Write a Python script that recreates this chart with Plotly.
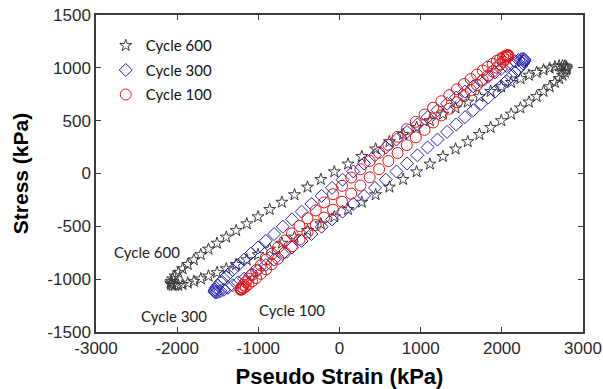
import plotly.graph_objects as go

# ---- data ----
cycle600_x = [2800, 2794, 2776, 2747, 2706, 2653, 2589, 2514, 2429, 2334, 2229, 2115, 1993, 1862, 1724, 1580, 1430, 1274, 1114, 950, 784, 615, 445, 275, 105, -64, -230, -394, -554, -710, -860, -1004, -1142, -1273, -1395, -1509, -1614, -1709, -1794, -1869, -1933, -1986, -2027, -2056, -2074, -2080, -2074, -2056, -2027, -1986, -1933, -1869, -1794, -1709, -1614, -1509, -1395, -1273, -1142, -1004, -860, -710, -554, -394, -230, -64, 105, 275, 445, 615, 784, 950, 1114, 1274, 1430, 1580, 1724, 1862, 1993, 2115, 2229, 2334, 2429, 2514, 2589, 2653, 2706, 2747, 2776, 2794]
cycle600_y = [997, 1010, 1018, 1020, 1018, 1010, 997, 980, 957, 930, 898, 862, 821, 777, 728, 676, 620, 562, 500, 436, 370, 301, 232, 161, 89, 16, -56, -129, -201, -272, -341, -410, -476, -540, -602, -660, -716, -768, -817, -861, -902, -938, -970, -997, -1020, -1037, -1050, -1058, -1060, -1058, -1050, -1037, -1020, -997, -970, -938, -902, -861, -817, -768, -716, -660, -602, -540, -476, -410, -341, -272, -201, -129, -56, 16, 89, 161, 232, 301, 370, 436, 500, 562, 620, 676, 728, 777, 821, 862, 898, 930, 957, 980]

cycle300_x = [2280, 2275, 2261, 2238, 2206, 2165, 2115, 2056, 1990, 1915, 1833, 1744, 1648, 1546, 1438, 1325, 1207, 1085, 960, 832, 702, 570, 437, 303, 170, 38, -92, -220, -346, -467, -585, -698, -806, -908, -1004, -1093, -1175, -1250, -1316, -1375, -1425, -1466, -1498, -1522, -1535, -1540, -1535, -1522, -1498, -1466, -1425, -1375, -1316, -1250, -1175, -1093, -1004, -908, -806, -698, -585, -467, -346, -220, -92, 38, 170, 303, 437, 570, 702, 832, 960, 1085, 1207, 1325, 1438, 1546, 1648, 1744, 1833, 1915, 1990, 2056, 2115, 2165, 2206, 2238, 2261, 2275]
cycle300_y = [1074, 1082, 1085, 1082, 1074, 1061, 1042, 1018, 989, 956, 917, 874, 826, 775, 719, 660, 598, 533, 464, 394, 321, 247, 172, 95, 19, -59, -136, -212, -287, -361, -434, -504, -573, -638, -700, -759, -815, -866, -914, -957, -996, -1029, -1058, -1082, -1101, -1114, -1122, -1125, -1122, -1114, -1101, -1082, -1058, -1029, -996, -957, -914, -866, -815, -759, -700, -638, -573, -504, -434, -361, -287, -212, -136, -59, 19, 95, 172, 247, 321, 394, 464, 533, 598, 660, 719, 775, 826, 874, 917, 956, 989, 1018, 1042, 1061]

cycle100_x = [2080, 2076, 2064, 2044, 2016, 1981, 1937, 1887, 1829, 1765, 1694, 1617, 1534, 1446, 1353, 1255, 1153, 1048, 940, 829, 716, 602, 488, 372, 258, 144, 31, -80, -188, -293, -395, -493, -586, -674, -757, -834, -905, -969, -1027, -1077, -1121, -1156, -1184, -1204, -1216, -1220, -1216, -1204, -1184, -1156, -1121, -1077, -1027, -969, -905, -834, -757, -674, -586, -493, -395, -293, -188, -80, 31, 144, 258, 372, 488, 602, 716, 829, 940, 1048, 1153, 1255, 1353, 1446, 1534, 1617, 1694, 1765, 1829, 1887, 1937, 1981, 2016, 2044, 2064, 2076]
cycle100_y = [1117, 1120, 1118, 1112, 1101, 1085, 1065, 1039, 1010, 975, 937, 894, 847, 797, 741, 684, 622, 557, 489, 419, 347, 272, 196, 119, 40, -38, -117, -196, -273, -349, -424, -497, -567, -634, -699, -759, -816, -868, -916, -958, -996, -1028, -1054, -1075, -1089, -1097, -1100, -1096, -1086, -1071, -1049, -1021, -989, -950, -907, -859, -806, -749, -689, -625, -558, -488, -417, -343, -267, -191, -114, -36, 41, 118, 194, 269, 342, 413, 483, 550, 613, 675, 732, 787, 837, 884, 928, 966, 1002, 1032, 1058, 1080, 1097, 1109]

series_names = ["Cycle 600", "Cycle 300", "Cycle 100"]
x_tickvals = [-3000, -2000, -1000, 0, 1000, 2000, 3000]
x_ticktext = ["-3000", "-2000", "-1000", "0", "1000", "2000", "3000"]
y_tickvals = [-1500, -1000, -500, 0, 500, 1000, 1500]
y_ticktext = ["-1500", "-1000", "-500", "0", "500", "1000", "1500"]
label_text = ["Cycle 600", "Cycle 300", "Cycle 100"]
label_x = [-2370, -2040, -590]
label_y = [-745, -1345, -1290]

LEGEND_FONT = "Lato, Open Sans, sans-serif"
AXIS_FONT = "Liberation Sans, Arial, sans-serif"

fig = go.Figure()
fig.add_trace(go.Scatter(
    x=cycle600_x, y=cycle600_y, mode="markers", name=series_names[0], legendgroup="g600",
    marker=dict(symbol="star-open", size=9, color="#3a3a3a", line=dict(width=1, color="#3a3a3a")),
))
fig.add_trace(go.Scatter(
    x=cycle300_x, y=cycle300_y, mode="markers", name=series_names[1], legendgroup="g300",
    marker=dict(symbol="diamond-open", size=10, color="#2424b4", line=dict(width=1, color="#2424b4")),
))
fig.add_trace(go.Scatter(
    x=cycle100_x, y=cycle100_y, mode="markers", name=series_names[2], legendgroup="g100",
    marker=dict(symbol="circle-open", size=11, color="#e01515", line=dict(width=1, color="#e01515")),
))

for t, xx, yy in zip(label_text, label_x, label_y):
    fig.add_annotation(x=xx, y=yy, text=t, showarrow=False,
                       font=dict(family=LEGEND_FONT, size=15, color="#222222"))

axis_common = dict(
    showgrid=False, zeroline=False, showline=True, linecolor="#3c3c3c", linewidth=1.5,
    mirror="ticks", ticks="inside", ticklen=5, tickwidth=1.2, tickcolor="#3c3c3c",
    tickfont=dict(family=AXIS_FONT, size=17, color="#2a2a2a"), automargin=False,
)

fig.update_layout(
    width=603, height=389,
    margin=dict(l=96, r=20, t=15, b=57),
    paper_bgcolor="white", plot_bgcolor="white",
    xaxis=dict(range=[-3000, 3000], tickmode="array", tickvals=x_tickvals, ticktext=x_ticktext,
               title=dict(text="<b>Pseudo Strain (kPa)</b>", standoff=12,
                          font=dict(family=AXIS_FONT, size=22, color="black")),
               **axis_common),
    yaxis=dict(range=[-1500, 1500], tickmode="array", tickvals=y_tickvals, ticktext=y_ticktext,
               title=dict(text="<b>Stress (kPa)</b>", standoff=13,
                          font=dict(family=AXIS_FONT, size=21, color="black")),
               **axis_common),
    legend=dict(x=0.02, y=0.955, xanchor="left", yanchor="top", bgcolor="rgba(0,0,0,0)",
                traceorder="grouped", tracegroupgap=2,
                borderwidth=0, font=dict(family=LEGEND_FONT, size=15, color="#111111")),
    showlegend=True,
)

fig.write_html("out.html")
